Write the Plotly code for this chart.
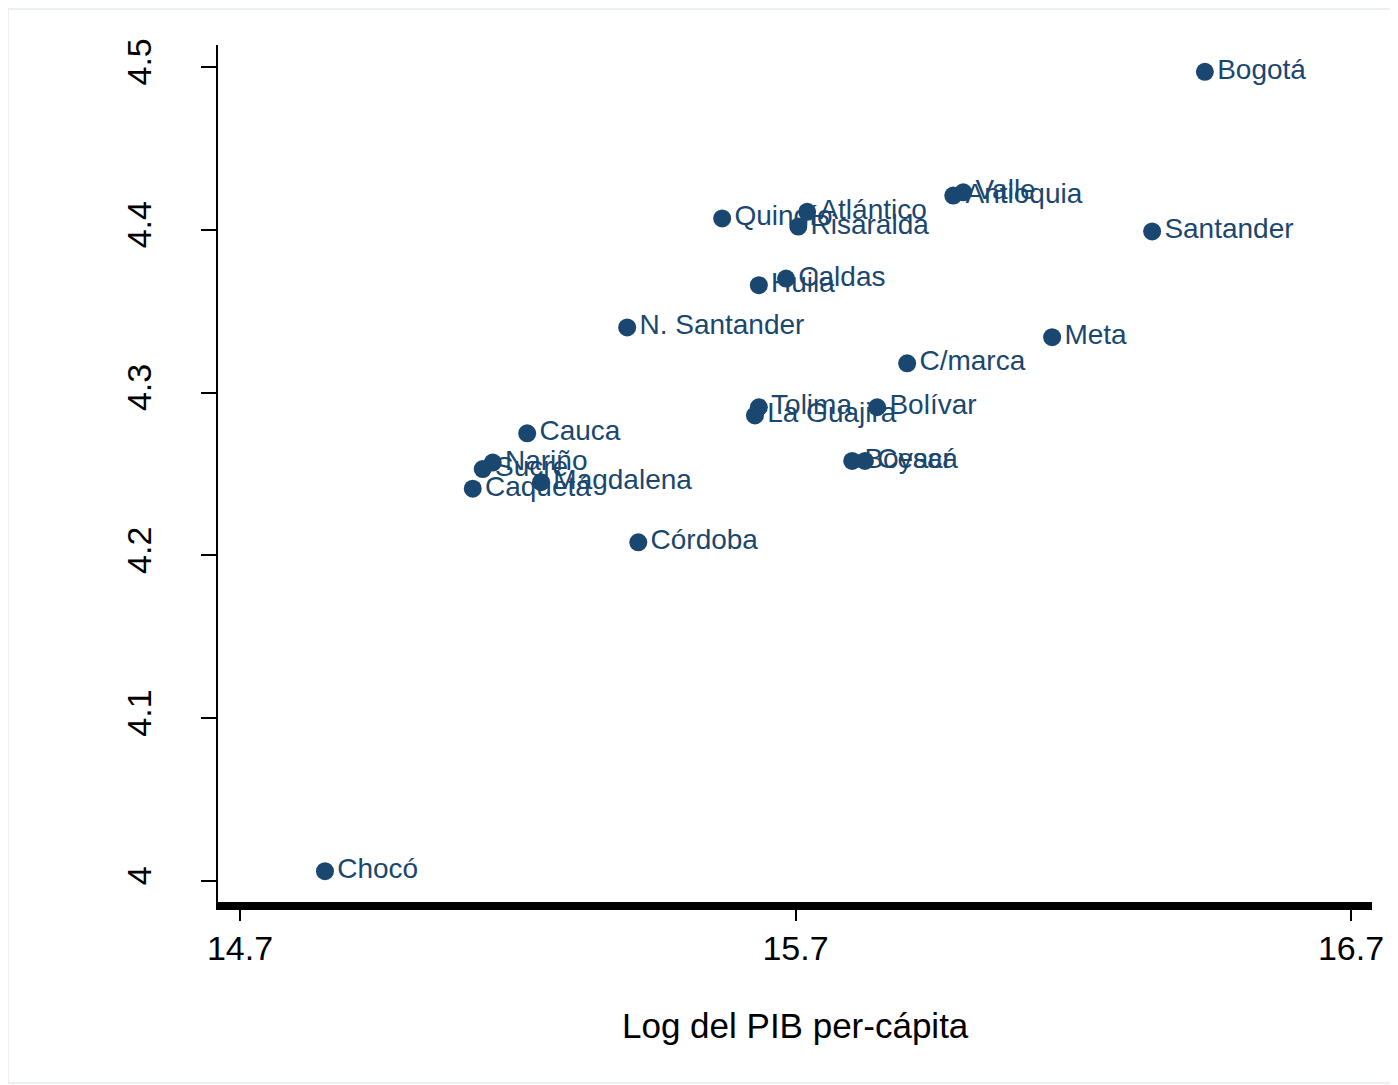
import plotly.graph_objects as go

departamentos = ["Bogotá", "Valle", "Antioquia", "Santander", "Quindío", "Atlántico",
                 "Risaralda", "Caldas", "Huila", "N. Santander", "Meta", "C/marca",
                 "Tolima", "La Guajira", "Bolívar", "Cesar", "Boyacá", "Cauca",
                 "Nariño", "Sucre", "Caquetá", "Magdalena", "Córdoba", "Chocó"]
log_pib = [16.437, 16.002, 15.984, 16.342, 15.568, 15.721,
           15.705, 15.683, 15.634, 15.397, 16.162, 15.901,
           15.634, 15.627, 15.847, 15.825, 15.802, 15.217,
           15.155, 15.137, 15.119, 15.242, 15.417, 14.853]
y_vals = [4.497, 4.423, 4.421, 4.399, 4.407, 4.411,
          4.402, 4.370, 4.366, 4.340, 4.334, 4.318,
          4.291, 4.286, 4.291, 4.258, 4.258, 4.275,
          4.257, 4.253, 4.241, 4.245, 4.208, 4.006]
x_ticks = [14.7, 15.7, 16.7]
y_ticks = [4.0, 4.1, 4.2, 4.3, 4.4, 4.5]
y_ticklabels = ["4", "4.1", "4.2", "4.3", "4.4", "4.5"]

navy = "#1a476f"
font_family = "Liberation Sans, Arial, sans-serif"

fig = go.Figure()
fig.add_trace(go.Scatter(
    x=log_pib, y=y_vals, mode="markers+text",
    text=departamentos, textposition="middle right",
    marker=dict(size=18, color=navy),
    textfont=dict(family=font_family, size=28, color=navy),
    cliponaxis=False, showlegend=False,
))

plot_h = 894 - 37
fig.update_layout(
    width=1390, height=1077,
    margin=dict(l=210, r=26, t=37, b=183),
    paper_bgcolor="white", plot_bgcolor="white",
    font=dict(family=font_family, color="black"),
    xaxis=dict(range=[14.6604, 16.7378], tickvals=x_ticks,
               ticktext=["14.7", "15.7", "16.7"],
               showgrid=False, zeroline=False,
               showline=True, linecolor="black", linewidth=8,
               ticks="outside", ticklen=11, tickwidth=1.5, tickcolor="black",
               tickfont=dict(size=34, family=font_family, color="black"),
               ticklabelstandoff=-2),
    yaxis=dict(range=[3.9871, 4.5135], tickvals=y_ticks, ticktext=y_ticklabels,
               showgrid=False, zeroline=False,
               showline=True, linecolor="black", linewidth=1.5,
               ticks="outside", ticklen=15, tickwidth=1.5, tickcolor="black",
               tickangle=-90,
               tickfont=dict(size=34, family=font_family, color="black"),
               ticklabelstandoff=37),
    annotations=[dict(text="Log del PIB per-cápita", xref="paper", yref="paper",
                      x=0.5, y=-(1025 - 902) / plot_h, xanchor="center", yanchor="middle",
                      showarrow=False, font=dict(size=35, family=font_family, color="black"))],
    shapes=[dict(type="rect", xref="paper", yref="paper",
                 x0=-210 / 1154, x1=1.0 + 25 / 1154,
                 y0=-(1083 - 902) / plot_h, y1=1.0 + 36 / plot_h,
                 line=dict(color="#e6ecf0", width=1.5), layer="below")],
)

fig.write_html("out.html")
